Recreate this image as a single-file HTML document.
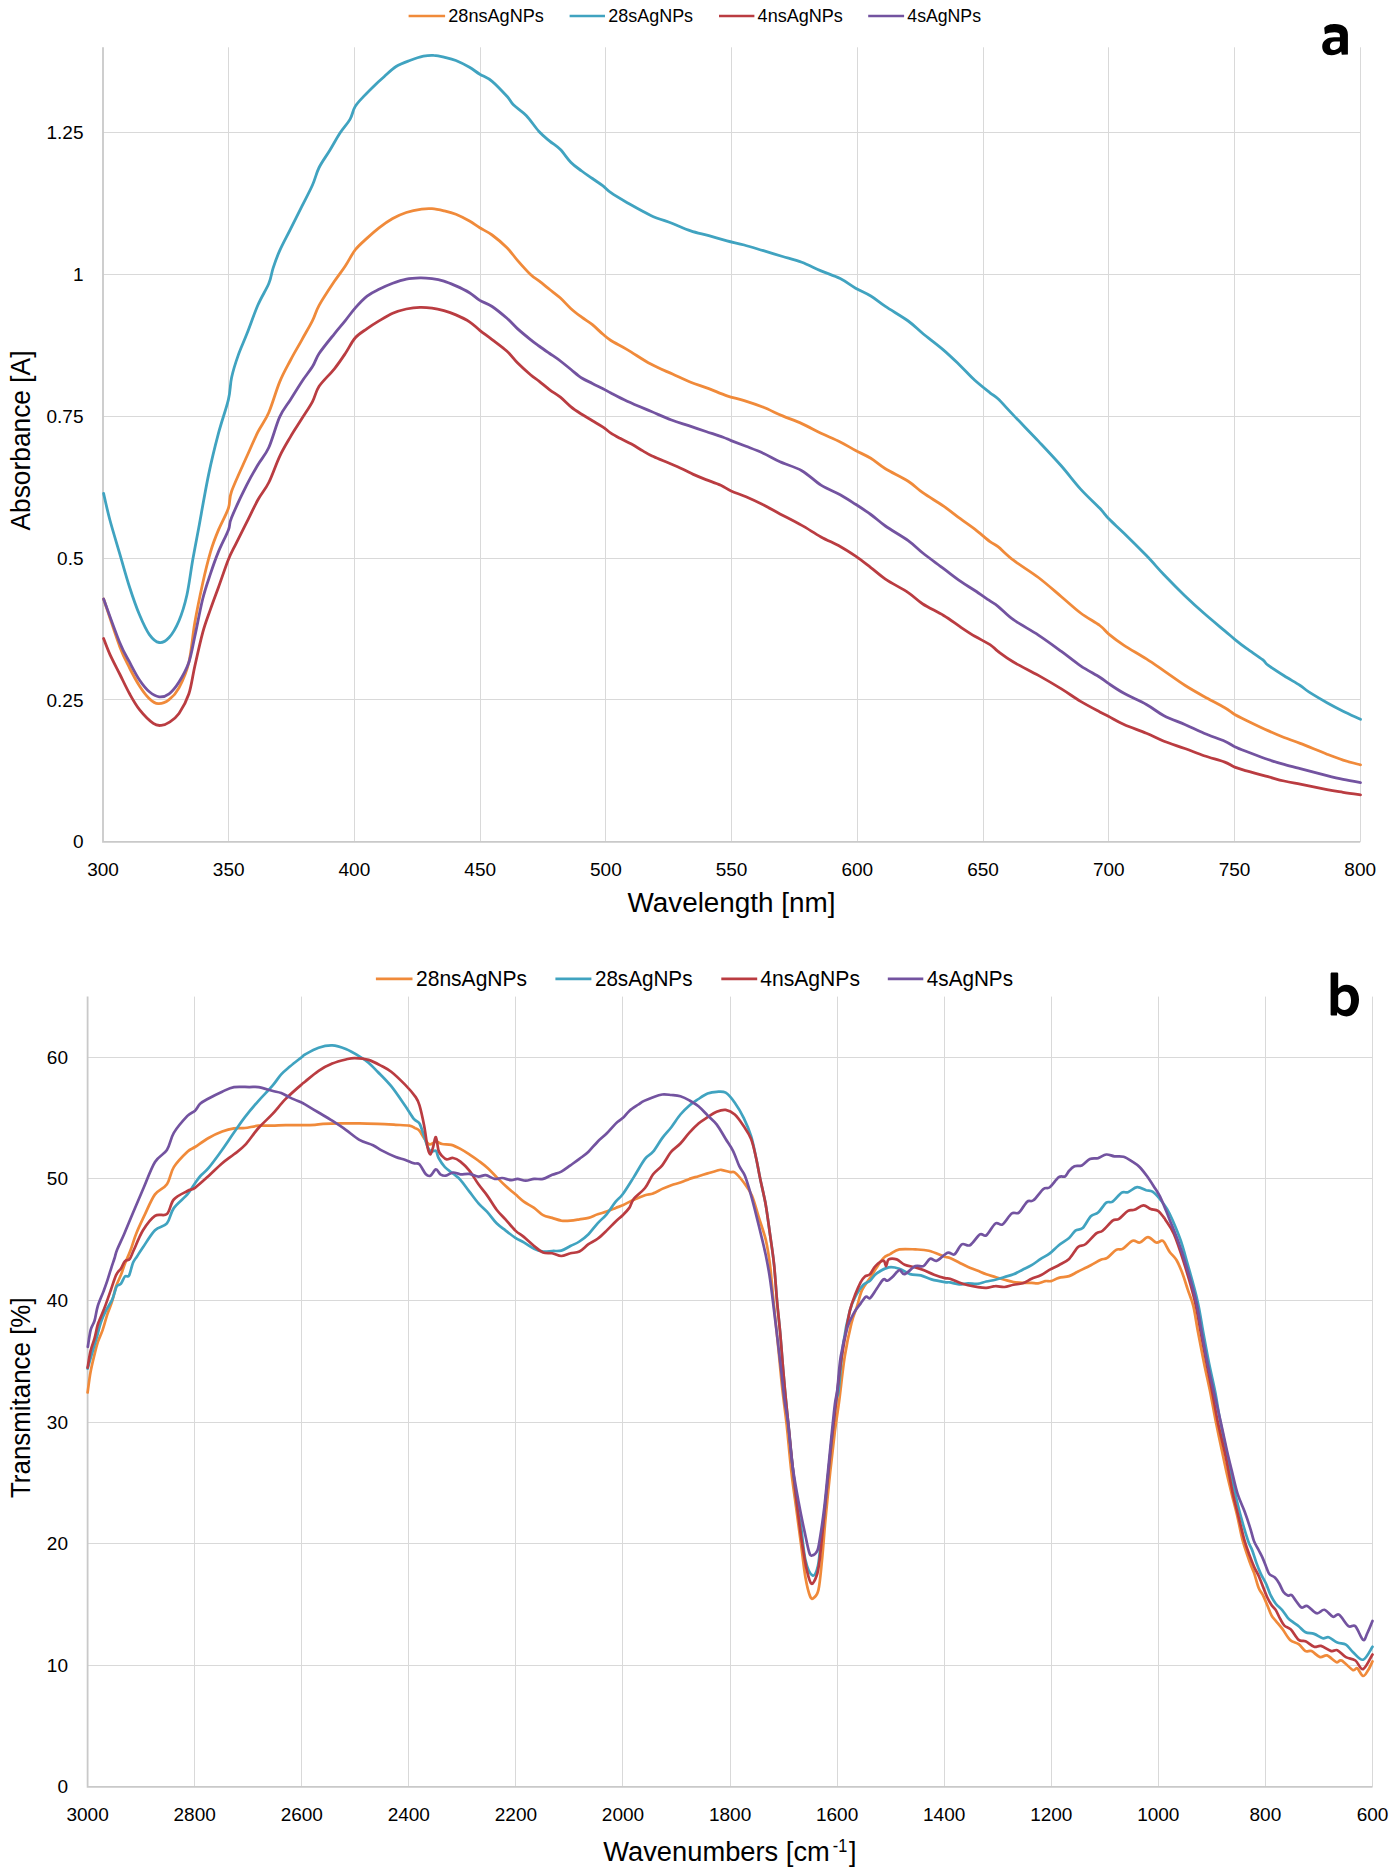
<!DOCTYPE html><html><head><meta charset="utf-8"><style>
html,body{margin:0;padding:0;background:#fff;}
svg{display:block;}
text{font-family:"Liberation Sans",sans-serif;fill:#000;}
</style></head><body>
<svg width="1397" height="1874" viewBox="0 0 1397 1874">
<rect width="1397" height="1874" fill="#fff"/>
<path d="M228.5 47.3 V841.8 M354.5 47.3 V841.8 M480.5 47.3 V841.8 M605.5 47.3 V841.8 M731.5 47.3 V841.8 M857.5 47.3 V841.8 M983.5 47.3 V841.8 M1108.5 47.3 V841.8 M1234.5 47.3 V841.8 M1360.5 47.3 V841.8 M103 699.5 H1360.2 M103 558.5 H1360.2 M103 416.5 H1360.2 M103 274.5 H1360.2 M103 132.5 H1360.2" stroke="#D9D9D9" stroke-width="1" fill="none"/>
<path d="M103 47.3 V841.8 H1360.2" stroke="#C9C9C9" stroke-width="1.8" fill="none"/>
<path d="M194.5 996.6 V1786.8 M301.5 996.6 V1786.8 M408.5 996.6 V1786.8 M515.5 996.6 V1786.8 M622.5 996.6 V1786.8 M730.5 996.6 V1786.8 M837.5 996.6 V1786.8 M944.5 996.6 V1786.8 M1051.5 996.6 V1786.8 M1158.5 996.6 V1786.8 M1265.5 996.6 V1786.8 M1372.5 996.6 V1786.8 M87.6 1665.5 H1372.5 M87.6 1543.5 H1372.5 M87.6 1422.5 H1372.5 M87.6 1300.5 H1372.5 M87.6 1178.5 H1372.5 M87.6 1057.5 H1372.5" stroke="#D9D9D9" stroke-width="1" fill="none"/>
<path d="M87.6 996.6 V1786.8 H1372.5" stroke="#C9C9C9" stroke-width="1.8" fill="none"/>
<text x="83.5" y="848.4" text-anchor="end" font-size="19">0</text>
<text x="83.5" y="706.5" text-anchor="end" font-size="19">0.25</text>
<text x="83.5" y="564.6" text-anchor="end" font-size="19">0.5</text>
<text x="83.5" y="422.8" text-anchor="end" font-size="19">0.75</text>
<text x="83.5" y="280.9" text-anchor="end" font-size="19">1</text>
<text x="83.5" y="139" text-anchor="end" font-size="19">1.25</text>
<text x="103" y="876" text-anchor="middle" font-size="19">300</text>
<text x="228.7" y="876" text-anchor="middle" font-size="19">350</text>
<text x="354.4" y="876" text-anchor="middle" font-size="19">400</text>
<text x="480.2" y="876" text-anchor="middle" font-size="19">450</text>
<text x="605.9" y="876" text-anchor="middle" font-size="19">500</text>
<text x="731.6" y="876" text-anchor="middle" font-size="19">550</text>
<text x="857.3" y="876" text-anchor="middle" font-size="19">600</text>
<text x="983" y="876" text-anchor="middle" font-size="19">650</text>
<text x="1108.8" y="876" text-anchor="middle" font-size="19">700</text>
<text x="1234.5" y="876" text-anchor="middle" font-size="19">750</text>
<text x="1360.2" y="876" text-anchor="middle" font-size="19">800</text>
<text x="68" y="1793.2" text-anchor="end" font-size="19">0</text>
<text x="68" y="1671.6" text-anchor="end" font-size="19">10</text>
<text x="68" y="1550.1" text-anchor="end" font-size="19">20</text>
<text x="68" y="1428.5" text-anchor="end" font-size="19">30</text>
<text x="68" y="1306.9" text-anchor="end" font-size="19">40</text>
<text x="68" y="1185.4" text-anchor="end" font-size="19">50</text>
<text x="68" y="1063.8" text-anchor="end" font-size="19">60</text>
<text x="87.6" y="1821" text-anchor="middle" font-size="19">3000</text>
<text x="194.7" y="1821" text-anchor="middle" font-size="19">2800</text>
<text x="301.8" y="1821" text-anchor="middle" font-size="19">2600</text>
<text x="408.8" y="1821" text-anchor="middle" font-size="19">2400</text>
<text x="515.9" y="1821" text-anchor="middle" font-size="19">2200</text>
<text x="623" y="1821" text-anchor="middle" font-size="19">2000</text>
<text x="730.1" y="1821" text-anchor="middle" font-size="19">1800</text>
<text x="837.1" y="1821" text-anchor="middle" font-size="19">1600</text>
<text x="944.2" y="1821" text-anchor="middle" font-size="19">1400</text>
<text x="1051.3" y="1821" text-anchor="middle" font-size="19">1200</text>
<text x="1158.3" y="1821" text-anchor="middle" font-size="19">1000</text>
<text x="1265.4" y="1821" text-anchor="middle" font-size="19">800</text>
<text x="1372.5" y="1821" text-anchor="middle" font-size="19">600</text>
<text x="627.5" y="911.6" font-size="27" textLength="208" lengthAdjust="spacingAndGlyphs">Wavelength [nm]</text>
<text transform="translate(30 530.5) rotate(-90)" x="0" y="0" font-size="27" textLength="180" lengthAdjust="spacingAndGlyphs">Absorbance [A]</text>
<text transform="translate(29.5 1498) rotate(-90)" x="0" y="0" font-size="27" textLength="200.6" lengthAdjust="spacingAndGlyphs">Transmitance [%]</text>
<text x="603.3" y="1860.7" font-size="27" textLength="226.5" lengthAdjust="spacingAndGlyphs">Wavenumbers [cm</text>
<text x="832.8" y="1851.6" font-size="18" textLength="14.5" lengthAdjust="spacingAndGlyphs">-1</text>
<text x="849" y="1860.7" font-size="27">]</text>
<path d="M408.6 16H445.1" stroke="#F08A3A" stroke-width="2.6"/>
<text x="448.3" y="22.1" font-size="19" textLength="95.6" lengthAdjust="spacingAndGlyphs">28nsAgNPs</text>
<path d="M569.6 16H605" stroke="#40A3C0" stroke-width="2.6"/>
<text x="608.3" y="22.1" font-size="19" textLength="84.8" lengthAdjust="spacingAndGlyphs">28sAgNPs</text>
<path d="M719 16H754.4" stroke="#BA3C41" stroke-width="2.6"/>
<text x="757.6" y="22.1" font-size="19" textLength="85.3" lengthAdjust="spacingAndGlyphs">4nsAgNPs</text>
<path d="M868.2 16H904.1" stroke="#7353A0" stroke-width="2.6"/>
<text x="907.3" y="22.1" font-size="19" textLength="73.7" lengthAdjust="spacingAndGlyphs">4sAgNPs</text>
<path d="M375.9 978.9H412.5" stroke="#F08A3A" stroke-width="2.8"/>
<text x="416" y="985.5" font-size="21.5" textLength="111.1" lengthAdjust="spacingAndGlyphs">28nsAgNPs</text>
<path d="M555.4 978.9H591.4" stroke="#40A3C0" stroke-width="2.8"/>
<text x="594.9" y="985.5" font-size="21.5" textLength="97.6" lengthAdjust="spacingAndGlyphs">28sAgNPs</text>
<path d="M721.3 978.9H757.2" stroke="#BA3C41" stroke-width="2.8"/>
<text x="760.2" y="985.5" font-size="21.5" textLength="99.8" lengthAdjust="spacingAndGlyphs">4nsAgNPs</text>
<path d="M887.8 978.9H923.3" stroke="#7353A0" stroke-width="2.8"/>
<text x="926.8" y="985.5" font-size="21.5" textLength="86.2" lengthAdjust="spacingAndGlyphs">4sAgNPs</text>
<path fill-rule="evenodd" fill="#000" d="M1324.2 27.8C1327 24.5 1331 24 1335 24C1343 24 1347.9 27.5 1347.9 34.5L1347.9 54.5L1341.8 54.8L1341.2 51.5C1338.5 54 1335 55.3 1331.5 55.3C1325.5 55.3 1322.2 51.5 1322.2 46.5C1322.2 40.5 1327.5 37.2 1334 37.2L1339.9 37.2L1339.9 35.5C1339.9 33 1338 32.2 1334.5 32.2C1331 32.2 1327.5 33.1 1324.9 34.2Z M1339.9 41.5L1335 41.5C1331.5 41.5 1329.9 43.5 1329.9 46C1329.9 48.5 1331.2 50 1333.5 50C1337 50 1339.9 47.5 1339.9 45Z"/>
<path fill-rule="evenodd" fill="#000" d="M1330.6 973.5C1330.6 972.8 1331.2 972.4 1332 972.4L1336.8 972.4C1337.6 972.4 1338.2 972.8 1338.2 973.5L1338.2 988.5C1340.3 986 1343 984.7 1346.5 984.7C1354 984.7 1359 990.5 1359 999.5C1359 1009.5 1353.5 1016.4 1346.5 1016.4C1342.5 1016.4 1339.3 1014.8 1337.3 1012.3L1336.9 1015.6L1332 1015.6C1331.2 1015.6 1330.6 1015.1 1330.6 1014.5Z M1338.2 995.5C1339.8 993 1342 991.6 1344.5 991.6C1348.8 991.6 1351 995 1351 1000.5C1351 1006.5 1348.5 1010 1344.5 1010C1342 1010 1339.8 1008.8 1338.2 1006.5Z"/>
<path d="M103.6 599C106.3 606.9 115.4 634.9 119.7 646.4C124 657.9 126.3 661.4 129.6 668C132.9 674.6 136.2 680.8 139.5 685.9C142.8 691 146.3 695.7 149.4 698.7C152.5 701.7 155 703.5 158.3 703.7C161.6 703.9 165.7 702.3 169.1 699.7C172.5 697.1 175.7 694.1 179 687.9C182.3 681.6 186.3 673.1 188.9 662.2C191.5 651.3 192.5 635.9 194.8 622.7C197.1 609.5 200.1 595.1 202.7 583.2C205.3 571.4 208 560.5 210.6 551.6C213.2 542.7 215.5 537.1 218.5 529.9C221.5 522.7 226.2 514.6 228.4 508.2C230.6 501.8 228.5 499.9 231.6 491.3C234.7 482.7 242.5 466.2 246.9 456.3C251.3 446.4 254.2 439.5 257.8 432.2C261.4 424.9 265.2 420.9 268.8 412.5C272.4 404.1 276.1 390.6 279.7 381.9C283.3 373.1 287 366.9 290.6 360C294.2 353.1 298 346.9 301.6 340.3C305.2 333.7 309.6 326.4 312.5 320.6C315.4 314.8 315.5 311.9 319.1 305.3C322.8 298.8 330 287.9 334.4 281.3C338.8 274.8 341.9 271.2 345.3 266C348.8 260.8 351.5 254.7 355.1 250C358.7 245.3 363.1 241.8 367.1 238.1C371.1 234.4 374.7 231.1 379 227.8C383.3 224.5 388.1 221.1 392.7 218.5C397.2 215.9 401.5 214.1 406.3 212.5C411.1 210.9 417.4 209.7 421.7 209.1C426 208.5 428.3 208.4 432 208.7C435.7 209 439.9 209.9 443.9 210.8C447.9 211.7 451.6 212.5 455.9 214.2C460.2 215.9 465.5 218.7 469.5 221C473.5 223.3 476 225.5 479.8 227.8C483.6 230.1 487.6 231.7 492.1 235C496.6 238.3 502.7 243.5 507 247.8C511.3 252.1 513.8 256.2 517.7 260.6C521.6 265.1 527 271.1 530.5 274.5C534 277.9 535.8 278.4 539 280.9C542.2 283.4 546.1 286.6 549.7 289.5C553.3 292.4 556.9 294.8 560.4 298C563.9 301.2 567.5 305.5 571 308.7C574.5 311.9 578.1 314.5 581.7 317.2C585.3 319.9 588.9 321.8 592.4 324.7C595.9 327.6 599.9 331.7 603 334.3C606.1 336.9 606.9 337.9 610.9 340.5C614.9 343.1 620.6 345.7 627.2 349.6C633.9 353.5 643.2 360 650.8 364.1C658.3 368.2 665.9 371.1 672.5 374.1C679.1 377.1 684.7 379.9 690.7 382.3C696.8 384.7 702.8 386.3 708.8 388.6C714.8 390.9 721.1 393.9 727 395.9C732.9 397.9 738.1 398.7 744.2 400.6C750.3 402.5 757 404.8 763.4 407.3C769.8 409.9 776.2 413.2 782.6 415.9C789 418.6 795.4 420.7 801.8 423.6C808.2 426.5 814.6 430.1 821 433.2C827.4 436.2 834.4 439 840.2 441.9C846 444.8 850.5 447.8 855.6 450.5C860.7 453.2 865.8 455.2 870.8 458.3C875.8 461.4 879.2 465 885.4 468.8C891.6 472.6 902 477.2 908.2 481.2C914.4 485.2 916.9 488.5 922.8 492.7C928.7 496.9 937.4 501.9 943.6 506.2C949.9 510.5 955.1 514.9 960.3 518.7C965.5 522.5 969.8 525.3 974.8 529.1C979.8 532.9 986.1 538.7 990 541.6C993.9 544.5 994.1 543.6 998 546.7C1001.9 549.8 1006.7 555.1 1013.4 560.2C1020.1 565.3 1030.4 571.4 1038.4 577.5C1046.4 583.6 1054.4 590.8 1061.4 596.7C1068.4 602.6 1074.2 608.2 1080.6 613C1087 617.8 1095.1 622 1099.8 625.5C1104.5 629 1104.8 630.8 1108.8 634.1C1112.8 637.4 1117.7 641.2 1124 645.3C1130.3 649.4 1139.7 654.6 1146.4 658.9C1153.1 663.2 1157.6 666.5 1164 670.9C1170.4 675.3 1178.1 681 1184.8 685.3C1191.5 689.6 1197.3 692.8 1204 696.5C1210.7 700.2 1219.7 704.7 1224.8 707.7C1229.9 710.7 1231.1 712.4 1234.7 714.5C1238.3 716.6 1241 717.7 1246.5 720.4C1252 723.1 1261.7 727.8 1268 730.6C1274.3 733.5 1278.7 735.4 1284.1 737.5C1289.5 739.6 1293 740.6 1300.2 743.4C1307.4 746.2 1319.8 751.4 1327 754.2C1334.2 757 1337.5 758.3 1343.1 760.1C1348.7 761.9 1357.6 764.1 1360.5 764.9" stroke="#F08A3A" stroke-width="2.8" fill="none" stroke-linejoin="round" stroke-linecap="round"/>
<path d="M103.6 493.4C104.6 497.8 107.2 510 109.9 520C112.6 530 116.4 542.4 119.7 553.6C123 564.8 126.3 577 129.6 587.2C132.9 597.4 136.2 606.9 139.5 614.8C142.8 622.7 146.1 630 149.4 634.6C152.7 639.2 155.9 642 159.2 642.5C162.5 643 165.8 641.1 169.1 637.5C172.4 633.9 176 627.8 179 620.7C182 613.6 184.6 605.2 186.9 595C189.2 584.8 190.8 570.7 192.8 559.5C194.8 548.3 196.1 542.1 198.7 528C201.3 513.9 205.3 490.4 208.6 474.6C211.9 458.8 215.2 445.7 218.5 433.2C221.8 420.7 226.2 408.9 228.4 399.6C230.6 390.3 230 384.8 231.6 377.5C233.2 370.2 235.5 362.9 238.1 355.6C240.7 348.3 243.6 342.2 246.9 333.8C250.2 325.4 254.2 313.7 257.8 305.3C261.4 296.9 266.2 289.7 268.8 283.5C271.4 277.3 271.3 273.6 273.1 268.1C274.9 262.6 276.8 257.1 279.7 250.6C282.6 244 287 236.1 290.6 228.8C294.2 221.5 298 214.2 301.6 206.9C305.2 199.6 309.6 191.6 312.5 185C315.4 178.4 316.2 173.3 319.1 167.5C322 161.7 326.5 155.8 330 150C333.5 144.2 336.7 138.1 340 133C343.3 127.9 347.5 123.8 350 119.4C352.5 115 352.8 110.4 355.1 106.6C357.4 102.8 360.3 100.1 363.7 96.4C367.1 92.7 372.2 87.7 375.6 84.4C379 81.1 380.7 79.7 384.1 76.7C387.5 73.7 391.8 69.2 396.1 66.5C400.4 63.8 405.2 62.2 409.8 60.5C414.4 58.8 419.4 57.1 423.4 56.2C427.4 55.4 430.3 55.2 433.7 55.4C437.1 55.5 440.2 56.2 443.9 57.1C447.6 58 451.6 58.8 455.9 60.5C460.2 62.2 465.5 65 469.5 67.3C473.5 69.6 476 71.9 479.8 74.2C483.6 76.5 487.6 77.6 492.1 81.3C496.6 85 503.4 92.4 507 96.3C510.6 100.2 510.2 101.6 513.4 104.8C516.6 108 521.9 111 526.2 115.5C530.5 120 535.1 127.2 539 131.5C542.9 135.8 546.1 138.1 549.7 141.1C553.3 144.1 556.9 146 560.4 149.6C563.9 153.2 567.5 158.9 571 162.5C574.5 166.1 578.1 168.3 581.7 171C585.3 173.7 588.9 176 592.4 178.5C595.9 181 599.9 183.5 603 185.9C606.1 188.3 606.9 189.9 610.9 192.7C614.9 195.5 620.6 198.9 627.2 202.7C633.9 206.5 643.2 211.9 650.8 215.4C658.3 218.9 665.9 220.9 672.5 223.5C679.1 226.1 684.7 228.8 690.7 230.8C696.8 232.8 702.8 234 708.8 235.7C714.8 237.4 721.1 239.2 727 240.8C732.9 242.4 738.1 243.3 744.2 245C750.3 246.7 757 248.8 763.4 250.7C769.8 252.6 776.2 254.6 782.6 256.5C789 258.4 795.4 259.9 801.8 262.3C808.2 264.7 814.6 268.2 821 270.9C827.4 273.6 834.4 275.7 840.2 278.6C846 281.5 850.5 285.3 855.6 288.2C860.7 291.1 865.8 293 870.8 296C875.8 299 879.2 302.2 885.4 306.4C891.6 310.6 902 316.5 908.2 321C914.4 325.5 916.9 328.6 922.8 333.5C928.7 338.4 937.4 344.7 943.6 350.1C949.9 355.5 955.1 360.7 960.3 365.7C965.5 370.7 969.8 375.8 974.8 380.3C979.8 384.8 986.1 389.7 990 392.8C993.9 395.9 994.1 395.1 998 398.8C1001.9 402.5 1006.7 408.1 1013.4 415.1C1020.1 422.2 1030.4 432.6 1038.4 441.1C1046.4 449.6 1054.4 458 1061.4 466C1068.4 474 1074.2 482.1 1080.6 489.1C1087 496.2 1095.1 503.4 1099.8 508.3C1104.5 513.2 1104.8 514.6 1108.8 518.8C1112.8 522.9 1117.7 527.1 1124 533.2C1130.3 539.3 1139.7 548.7 1146.4 555.6C1153.1 562.5 1157.6 568.1 1164 574.8C1170.4 581.5 1178.1 589.3 1184.8 595.7C1191.5 602.1 1197.3 607.4 1204 613.3C1210.7 619.2 1219.7 626.6 1224.8 630.9C1229.9 635.2 1231.1 636.4 1234.7 639.3C1238.3 642.2 1241.8 645 1246.5 648.4C1251.2 651.8 1259 656.9 1262.6 659.7C1266.2 662.5 1264.4 662.4 1268 665.1C1271.6 667.8 1278.7 672.4 1284.1 675.8C1289.5 679.2 1296.1 682.8 1300.2 685.5C1304.3 688.2 1304.3 689 1308.8 691.9C1313.3 694.8 1321.3 699.5 1327 702.7C1332.7 705.9 1337.5 708.4 1343.1 711.2C1348.7 714 1357.6 717.9 1360.5 719.3" stroke="#40A3C0" stroke-width="2.8" fill="none" stroke-linejoin="round" stroke-linecap="round"/>
<path d="M103.6 638.5C104.6 641.1 107.2 648.4 109.9 654.3C112.6 660.2 116.4 667.4 119.7 674C123 680.6 126.3 687.9 129.6 693.8C132.9 699.7 135.6 704.7 139.5 709.6C143.4 714.5 149.7 720.8 153.3 723.4C156.9 726 158.6 725.6 161.2 725.4C163.8 725.2 166.1 724.4 169.1 722.4C172.1 720.4 175.7 718.3 179 713.5C182.3 708.7 186.3 701.7 188.9 693.8C191.5 685.9 192.5 676.4 194.8 666.2C197.1 656 200.1 642.2 202.7 632.6C205.3 623 208 616.5 210.6 608.9C213.2 601.3 215.5 595.4 218.5 587.2C221.5 579 225.5 566.7 228.4 559.5C231.3 552.3 232.8 550.1 235.9 543.8C239 537.5 243.2 529.2 246.9 521.9C250.6 514.6 254.2 506.6 257.8 500C261.4 493.4 265.2 489.8 268.8 482.5C272.4 475.2 276.1 463.9 279.7 456.3C283.3 448.7 287 442.8 290.6 436.6C294.2 430.4 298 424.9 301.6 419.1C305.2 413.3 309.6 407.1 312.5 401.6C315.4 396.1 315.5 391.8 319.1 386.3C322.8 380.8 330 374.3 334.4 368.8C338.8 363.3 341.9 358.6 345.3 353.5C348.8 348.4 351.5 342.1 355.1 338C358.7 333.9 363.1 331.5 367.1 328.6C371.1 325.8 374.7 323.5 379 320.9C383.3 318.3 388.1 315.2 392.7 313.2C397.2 311.2 401.8 310 406.3 309C410.9 308 415.7 307.4 420 307.3C424.3 307.2 428 307.5 432 308.1C436 308.7 439.9 309.6 443.9 310.7C447.9 311.8 451.6 313 455.9 314.9C460.2 316.8 465.5 319.2 469.5 321.8C473.5 324.4 476 327.3 479.8 330.3C483.6 333.3 487.6 336.1 492.1 339.6C496.6 343.1 502.7 347.4 507 351.3C511.3 355.2 513.8 359.2 517.7 363.1C521.6 367 527 371.8 530.5 374.8C534 377.8 535.8 378.7 539 381.2C542.2 383.7 546.1 387.1 549.7 389.8C553.3 392.5 556.9 394.4 560.4 397.2C563.9 400 567.5 404 571 406.9C574.5 409.8 578.1 412 581.7 414.3C585.3 416.6 588.9 418.6 592.4 420.7C595.9 422.8 599.9 425 603 427.1C606.1 429.2 608.1 431.2 610.9 433.1C613.7 435 616.6 436.5 620 438.3C623.4 440.1 627.7 442 631.5 444.1C635.3 446.2 639.5 448.9 642.9 450.9C646.3 452.9 648.3 454.3 652.1 456.1C655.9 457.9 660.6 459.6 665.8 461.8C670.9 464 678.4 467.2 683 469.3C687.6 471.4 689.5 472.7 693.3 474.4C697.1 476.1 701.3 477.8 705.9 479.6C710.5 481.4 716.6 483.4 720.8 485.3C725 487.2 726.9 489.1 731.1 491C735.3 492.9 740.6 494.4 746 496.7C751.4 499 757.5 501.9 763.2 504.8C768.9 507.7 773.6 510.5 780 513.9C786.4 517.3 795 521.6 801.8 525.4C808.6 529.2 814.6 533.4 821 536.9C827.4 540.4 834.4 543.3 840.2 546.5C846 549.7 850.5 552.7 855.6 556.2C860.7 559.7 865.8 563.8 870.8 567.6C875.8 571.4 879.2 574.9 885.4 579.1C891.6 583.3 902 588.5 908.2 592.6C914.4 596.8 916.9 600.2 922.8 604C928.7 607.8 937.4 611.7 943.6 615.5C949.9 619.3 955.1 623.4 960.3 626.9C965.5 630.4 969.8 633.3 974.8 636.3C979.8 639.2 986.1 642.1 990 644.6C993.9 647.1 994.1 648.5 998 651.4C1001.9 654.3 1006.7 658 1013.4 662C1020.1 666 1030.4 670.9 1038.4 675.4C1046.4 679.9 1054.4 684.6 1061.4 688.9C1068.4 693.2 1074.2 697.6 1080.6 701.4C1087 705.2 1095.1 709.4 1099.8 711.9C1104.5 714.4 1104.8 714.4 1108.8 716.5C1112.8 718.6 1117.7 721.7 1124 724.5C1130.3 727.3 1139.7 730.5 1146.4 733.3C1153.1 736.1 1157.6 738.8 1164 741.3C1170.4 743.8 1178.1 746.1 1184.8 748.5C1191.5 750.9 1197.3 753.4 1204 755.7C1210.7 758 1219.7 760.2 1224.8 762.1C1229.9 764 1231.1 765.7 1234.7 767.1C1238.3 768.5 1241 769.2 1246.5 770.8C1252 772.4 1261.7 775 1268 776.7C1274.3 778.4 1278.7 779.8 1284.1 781C1289.5 782.2 1293 782.8 1300.2 784.2C1307.4 785.6 1319.8 788.2 1327 789.6C1334.2 791 1337.5 791.4 1343.1 792.3C1348.7 793.2 1357.6 794.4 1360.5 794.8" stroke="#BA3C41" stroke-width="2.8" fill="none" stroke-linejoin="round" stroke-linecap="round"/>
<path d="M103.6 599C106.3 606.2 115.4 632 119.7 642.5C124 653 126.3 656 129.6 662.2C132.9 668.5 136.2 675.1 139.5 680C142.8 684.9 146.1 689 149.4 691.8C152.7 694.6 155.9 696.5 159.2 696.8C162.5 697.1 165.8 696.3 169.1 693.8C172.4 691.3 175.7 687.3 179 682C182.3 676.7 186.3 669.8 188.9 662.2C191.5 654.6 192.5 647 194.8 636.5C197.1 626 200.1 609.5 202.7 599C205.3 588.5 208 581.3 210.6 573.4C213.2 565.5 215.5 558.9 218.5 551.6C221.5 544.4 226.2 535.6 228.4 529.9C230.6 524.2 228.5 525 231.6 517.5C234.7 510 242.5 493.4 246.9 484.7C251.3 475.9 254.2 471.2 257.8 465C261.4 458.8 265.2 455.5 268.8 447.5C272.4 439.5 276.1 424.9 279.7 416.9C283.3 408.9 287 405.2 290.6 399.4C294.2 393.6 298 387.4 301.6 381.9C305.2 376.4 309.6 371.3 312.5 366.6C315.4 361.9 315.5 359 319.1 353.5C322.8 348 330 339.3 334.4 333.8C338.8 328.3 341.9 324.9 345.3 320.6C348.8 316.3 351.5 312.2 355.1 308.1C358.7 304 363.1 299.2 367.1 296.1C371.1 293 374.7 291.4 379 289.3C383.3 287.2 388.1 285 392.7 283.3C397.2 281.6 401.8 280 406.3 279.1C410.9 278.2 415.7 278 420 277.9C424.3 277.8 428 278.2 432 278.7C436 279.2 439.9 279.9 443.9 281.1C447.9 282.3 451.6 284 455.9 285.9C460.2 287.8 465.5 290.3 469.5 292.7C473.5 295.1 476 298.1 479.8 300.4C483.6 302.7 487.6 303.5 492.1 306.5C496.6 309.5 502.7 314.6 507 318.3C511.3 322 513.8 325.3 517.7 328.9C521.6 332.4 527 336.8 530.5 339.6C534 342.5 535.8 343.7 539 346C542.2 348.3 546.1 351 549.7 353.5C553.3 356 556.9 358.3 560.4 361C563.9 363.7 567.5 366.7 571 369.5C574.5 372.3 578.1 375.7 581.7 378C585.3 380.3 588.9 381.6 592.4 383.4C595.9 385.2 599.9 387.1 603 388.7C606.1 390.3 606.9 391 610.9 393.1C614.9 395.2 620.6 398.3 627.2 401.3C633.9 404.3 643.4 408.2 650.8 411.3C658.2 414.4 665.2 417.6 671.5 420C677.8 422.4 683 423.8 688.7 425.7C694.4 427.6 700.2 429.6 705.9 431.5C711.6 433.4 718.9 435.7 723.1 437.2C727.3 438.7 727.3 439.1 731.1 440.6C734.9 442.1 740.6 444.2 746 446.3C751.4 448.4 757.5 450.6 763.2 453.2C768.9 455.8 773.6 458.9 780 461.8C786.4 464.7 795 466.8 801.8 470.7C808.6 474.6 814.6 481.1 821 485.1C827.4 489.1 834.4 491.5 840.2 494.7C846 497.9 850.5 501 855.6 504.3C860.7 507.6 865.8 510.9 870.8 514.5C875.8 518.1 879.2 521.6 885.4 526C891.6 530.4 902 536.1 908.2 540.6C914.4 545.1 916.9 548.3 922.8 553C928.7 557.7 937.4 563.9 943.6 568.6C949.9 573.3 955.1 577.5 960.3 581.1C965.5 584.8 969.8 587.2 974.8 590.5C979.8 593.8 986.1 598.3 990 600.9C993.9 603.5 994.1 603.2 998 606.3C1001.9 609.4 1006.7 614.9 1013.4 619.7C1020.1 624.5 1030.4 629.8 1038.4 635.1C1046.4 640.4 1054.4 646.3 1061.4 651.4C1068.4 656.5 1074.2 661.5 1080.6 665.8C1087 670.1 1095.1 674.3 1099.8 677.3C1104.5 680.3 1104.8 681 1108.8 683.7C1112.8 686.4 1117.7 689.8 1124 693.3C1130.3 696.8 1139.7 700.8 1146.4 704.5C1153.1 708.2 1157.6 712.4 1164 715.7C1170.4 719 1178.1 721.6 1184.8 724.5C1191.5 727.4 1197.3 730.5 1204 733.3C1210.7 736.1 1219.7 739.1 1224.8 741.3C1229.9 743.5 1231.1 745 1234.7 746.7C1238.3 748.4 1241 749.4 1246.5 751.5C1252 753.6 1261.7 757.4 1268 759.5C1274.3 761.6 1278.7 762.9 1284.1 764.4C1289.5 765.9 1293 766.8 1300.2 768.7C1307.4 770.6 1319.8 773.8 1327 775.6C1334.2 777.4 1337.5 778.2 1343.1 779.4C1348.7 780.6 1357.6 782.1 1360.5 782.6" stroke="#7353A0" stroke-width="2.8" fill="none" stroke-linejoin="round" stroke-linecap="round"/>
<path d="M87.6 1392.5C88.1 1389 89.4 1378.1 90.6 1371.7C91.8 1365.3 93.4 1359 94.6 1354.1C95.8 1349.2 96.5 1346.1 97.8 1342.1C99.1 1338.1 101 1334.8 102.6 1330.1C104.2 1325.4 105.8 1318.9 107.4 1314.1C109 1309.3 110.7 1305.9 112.2 1301.2C113.7 1296.5 114.7 1290.4 116.2 1286C117.7 1281.6 119.5 1278.5 121 1274.8C122.5 1271.1 123.4 1267.7 125 1263.6C126.6 1259.5 128.7 1255 130.6 1250C132.5 1245 133.8 1239.5 136.2 1233.7C138.5 1227.9 141.6 1221.5 144.7 1214.9C147.8 1208.4 151.3 1199.5 155 1194.4C158.7 1189.3 163.8 1188.8 166.9 1184.2C170 1179.7 170.4 1172.5 173.8 1167.1C177.2 1161.7 183.9 1155 187.4 1151.7C190.9 1148.4 191.5 1149.3 195 1147C198.5 1144.7 204.1 1140.6 208.6 1138C213.1 1135.4 218 1133.2 222.2 1131.6C226.4 1130 230.2 1129 234 1128.4C237.8 1127.8 240.8 1128.5 244.9 1128C249 1127.5 254 1126.1 258.5 1125.7C263 1125.3 267.6 1125.8 272.1 1125.7C276.6 1125.6 280.8 1125.3 285.7 1125.2C290.6 1125.1 296.7 1125.3 301.6 1125.2C306.5 1125.1 311.4 1125 315 1124.8C318.6 1124.6 318.7 1124.1 323.1 1123.9C327.5 1123.7 335.2 1123.5 341.3 1123.4C347.4 1123.3 353.3 1123.3 359.4 1123.4C365.4 1123.5 371.6 1123.7 377.6 1123.9C383.7 1124.1 390.4 1124.5 395.7 1124.8C401 1125.1 406.1 1125.2 409.3 1125.7C412.5 1126.2 413.3 1127.2 415 1128.1C416.7 1128.9 418 1129.1 419.5 1130.8C421 1132.5 422.4 1135.8 424.1 1138.1C425.8 1140.4 427.5 1143.8 429.5 1144.4C431.5 1145 433.8 1141.8 435.9 1141.7C438 1141.6 439.6 1143.5 442.2 1144C444.8 1144.5 448.3 1144.1 451.3 1144.9C454.3 1145.7 457.4 1147.3 460.4 1148.9C463.4 1150.5 466.4 1152.4 469.4 1154.4C472.4 1156.4 475.5 1158.4 478.5 1160.7C481.5 1163 484.6 1165.3 487.6 1168C490.6 1170.7 493.6 1174.1 496.6 1177.1C499.6 1180.1 502.6 1183.2 505.7 1186.1C508.8 1189 512.4 1191.7 515.4 1194.3C518.4 1196.9 520.7 1199.3 523.8 1201.6C526.9 1203.9 530.9 1205.6 534.1 1207.9C537.3 1210.2 540.1 1213.5 543.1 1215.2C546.1 1216.9 549.2 1217 552.2 1217.9C555.2 1218.8 558.3 1220.1 561.3 1220.6C564.3 1221 567.4 1220.8 570.4 1220.6C573.4 1220.4 576.4 1219.8 579.4 1219.3C582.4 1218.8 585.5 1218.7 588.5 1217.9C591.5 1217.1 594.6 1215.3 597.6 1214.3C600.6 1213.2 603.6 1212.7 606.6 1211.6C609.6 1210.5 613 1209 615.7 1207.9C618.4 1206.8 619.7 1206.6 622.7 1205.2C625.7 1203.8 630.1 1201.5 633.8 1199.8C637.5 1198.1 641.8 1196.3 645 1195.2C648.2 1194.1 650.2 1194.5 653.1 1193.4C656 1192.4 659.2 1190.3 662.2 1188.9C665.2 1187.5 668.3 1186.3 671.3 1185.2C674.3 1184.1 677.4 1183.5 680.4 1182.5C683.4 1181.5 686.4 1180 689.4 1178.9C692.4 1177.9 695.5 1177.1 698.5 1176.2C701.5 1175.3 704.6 1174.3 707.6 1173.4C710.6 1172.5 714.3 1171.3 716.6 1170.7C718.9 1170.1 718.9 1169.6 721.2 1169.8C723.5 1170 727.9 1171.6 730.2 1172.1C732.5 1172.5 732.5 1170.8 734.8 1172.5C737.1 1174.2 740.9 1178.7 743.8 1182.5C746.6 1186.3 749.4 1189.6 751.9 1195.5C754.4 1201.4 756.6 1210.3 758.9 1217.7C761.2 1225.1 763.9 1232 765.8 1239.9C767.6 1247.8 768.9 1256.1 770 1264.9C771.1 1273.7 771.8 1283.3 772.7 1292.6C773.6 1301.8 774.5 1310 775.5 1320.4C776.5 1330.8 777.9 1343.5 779 1355C780.1 1366.5 781.1 1378 782.4 1389.7C783.7 1401.4 785.2 1411.5 786.7 1425.2C788.2 1439 789.8 1458.5 791.4 1472.2C793 1485.9 794.5 1495.7 796.1 1507.4C797.7 1519.1 799.2 1530.9 800.8 1542.6C802.4 1554.3 803.9 1568.8 805.5 1577.8C807.1 1586.8 808.8 1593.3 810.2 1596.6C811.6 1599.9 812.4 1599 813.8 1597.8C815.2 1596.6 817.1 1595.9 818.5 1589.6C819.9 1583.3 820.8 1572 822 1560.2C823.2 1548.5 824.1 1533.8 825.5 1519.1C826.9 1504.4 828.6 1486.9 830.2 1472.2C831.8 1457.5 833.4 1443.1 834.9 1431.1C836.4 1419.1 837.7 1412.4 839.3 1400C840.9 1387.6 842.7 1369.6 844.7 1356.8C846.7 1344 849.4 1331.6 851.4 1323.4C853.4 1315.2 854.9 1313 856.7 1307.4C858.5 1301.9 859.8 1295 862 1290.1C864.2 1285.2 867.5 1281.9 870 1278.1C872.5 1274.3 874.5 1270.7 876.7 1267.4C878.9 1264.1 881.2 1260.3 883.4 1258.1C885.6 1255.9 887.4 1255.5 890.1 1254.1C892.8 1252.6 895.2 1250.2 899.4 1249.4C903.6 1248.6 910.5 1249.2 915.4 1249.4C920.3 1249.6 923.9 1249.5 928.8 1250.7C933.7 1251.9 941.3 1255.5 944.8 1256.7C948.3 1257.9 947.6 1256.9 950 1257.9C952.4 1258.9 956.1 1261 959.1 1262.5C962.1 1264 965.1 1265.7 968.1 1267C971.1 1268.3 974.2 1269.4 977.2 1270.6C980.2 1271.8 983.3 1273.2 986.3 1274.3C989.3 1275.4 992.4 1276.1 995.4 1277C998.4 1277.9 1001.4 1278.9 1004.4 1279.7C1007.4 1280.5 1010.5 1281.5 1013.5 1282C1016.5 1282.5 1019.6 1282.8 1022.6 1282.9C1025.6 1283.1 1029 1282.8 1031.6 1282.9C1034.2 1283 1035.7 1283.6 1038 1283.3C1040.3 1283 1043 1281.5 1045.2 1281.1C1047.4 1280.7 1048.8 1281.6 1051.1 1281.1C1053.4 1280.6 1055.8 1278.7 1058.8 1277.9C1061.8 1277.1 1065.9 1277.2 1069.1 1276.1C1072.3 1275 1074.5 1273.3 1078.1 1271.5C1081.7 1269.7 1087 1267.2 1090.8 1265.2C1094.6 1263.2 1098.1 1260.9 1100.8 1259.7C1103.5 1258.5 1104.6 1259.6 1107.2 1257.9C1109.8 1256.2 1113.6 1251.3 1116.2 1249.8C1118.8 1248.3 1119.9 1250.4 1122.6 1248.9C1125.3 1247.4 1129.7 1241.8 1132.6 1240.7C1135.5 1239.6 1137.2 1243.1 1139.8 1242.5C1142.4 1241.9 1145.3 1237.1 1148 1237.1C1150.7 1237.1 1153.8 1241.9 1156.1 1242.5C1158.4 1243.1 1160.2 1240.8 1161.6 1240.7C1162.9 1240.7 1162.8 1240.3 1164.2 1242.2C1165.6 1244.1 1167.6 1248.9 1169.7 1251.9C1171.8 1254.9 1174.5 1256.7 1176.6 1260.2C1178.7 1263.7 1180.3 1267.8 1182.2 1272.7C1184.1 1277.6 1185.9 1283.9 1187.7 1289.4C1189.5 1295 1191.6 1299.1 1193.3 1306C1195 1312.9 1196 1321.5 1197.8 1331C1199.6 1340.5 1201.9 1352.5 1204 1362.9C1206.1 1373.3 1208.5 1383.5 1210.5 1393.4C1212.5 1403.4 1213.9 1412.2 1216 1422.6C1218.1 1433 1221 1446.2 1223 1455.8C1225 1465.4 1226.8 1473.7 1228.3 1480C1229.8 1486.3 1230.2 1487.7 1231.7 1493.9C1233.2 1500.1 1235.8 1509.6 1237.6 1517.4C1239.4 1525.2 1240.7 1533.3 1242.8 1540.9C1244.9 1548.5 1248.1 1557.5 1250 1562.9C1251.9 1568.4 1252.9 1569.4 1254.3 1573.6C1255.7 1577.8 1257.2 1584.2 1258.6 1587.8C1260 1591.4 1261.5 1592.2 1262.9 1595.1C1264.3 1598 1265.8 1601.6 1267.2 1605C1268.6 1608.4 1270.1 1612.7 1271.5 1615.3C1272.9 1617.9 1274 1618.6 1275.8 1620.8C1277.6 1623 1279.8 1625.4 1282.2 1628.6C1284.6 1631.8 1287.3 1637.3 1290.1 1639.9C1292.8 1642.5 1296.1 1642.3 1298.7 1644.2C1301.3 1646.1 1303.4 1649.9 1305.5 1651.1C1307.6 1652.2 1309.1 1650.1 1311.5 1651.1C1313.9 1652.1 1317.5 1656.4 1320.1 1657.1C1322.7 1657.8 1324.3 1654.6 1327 1655.4C1329.7 1656.2 1334.1 1661.4 1336.5 1662.2C1338.9 1663 1338.9 1659.2 1341.6 1660.5C1344.3 1661.8 1350.2 1668.7 1352.8 1670C1355.4 1671.3 1355.4 1667.2 1357.1 1668.2C1358.8 1669.2 1361.2 1675.7 1363.1 1676C1364.9 1676.3 1366.6 1672.4 1368.2 1670C1369.8 1667.6 1371.8 1662.8 1372.5 1661.4" stroke="#F08A3A" stroke-width="2.7" fill="none" stroke-linejoin="round" stroke-linecap="round"/>
<path d="M87.6 1368.5C88.5 1365.4 91.4 1355.4 93 1350.1C94.6 1344.8 95.7 1341.2 97 1336.5C98.3 1331.8 99.5 1326.3 101 1322C102.5 1317.7 103.9 1314.5 105.8 1310.8C107.7 1307.1 110.6 1303.1 112.2 1299.6C113.8 1296.1 114.6 1292.3 115.4 1290C116.2 1287.7 116.1 1287.1 117 1286C117.9 1284.9 119.7 1285.2 121 1283.6C122.3 1282 123.7 1277.7 125 1276.4C126.3 1275.1 127.7 1277.9 129 1275.6C130.3 1273.3 131.7 1266 133 1262.8C134.3 1259.6 135.3 1259 137 1256.4C138.7 1253.8 140 1251.7 143 1247.3C146 1242.9 151 1234.3 155 1230.3C159 1226.3 163.8 1227.1 166.9 1223.4C170 1219.7 170.4 1212.9 173.8 1208.1C177.2 1203.3 183.9 1198.5 187.4 1194.4C190.9 1190.3 192.8 1186.4 195 1183.3C197.2 1180.2 198.1 1178.6 200.4 1176C202.7 1173.4 205 1172.3 208.6 1167.9C212.2 1163.5 218 1155.6 222.2 1149.7C226.4 1143.8 230.2 1137.9 234 1132.5C237.8 1127.1 240.8 1122.4 244.9 1117.1C249 1111.8 254 1105.9 258.5 1100.8C263 1095.7 268.3 1090.6 272.1 1086.2C275.9 1081.8 278.2 1077.7 281.2 1074.4C284.2 1071.1 286.8 1069.2 290.2 1066.3C293.6 1063.4 299.1 1059.2 301.6 1057.2C304.1 1055.2 302.2 1056.1 305 1054.5C307.8 1052.9 314.1 1049.2 318.6 1047.7C323.1 1046.2 327.7 1045.2 332.2 1045.4C336.7 1045.6 341.3 1047.2 345.8 1049C350.3 1050.8 355.6 1054 359.4 1056.3C363.2 1058.6 365.5 1060.1 368.5 1062.7C371.5 1065.3 373.8 1067.8 377.6 1071.7C381.4 1075.6 386.7 1080.6 391.2 1086.2C395.7 1091.8 401 1099.8 404.8 1105.3C408.6 1110.8 411.4 1115.9 413.8 1118.9C416.2 1121.9 417.8 1120.6 419.5 1123.5C421.2 1126.4 422.7 1132.3 424.1 1136.2C425.5 1140.1 426.5 1144.5 427.7 1147.1C428.9 1149.7 429.9 1151.1 431.3 1151.7C432.7 1152.3 434.7 1149.8 435.9 1150.8C437.1 1151.8 437.1 1155.3 438.6 1158C440.1 1160.7 442.3 1164.4 444.9 1167.1C447.5 1169.8 451.4 1172.2 454 1174.3C456.6 1176.4 457.8 1176.9 460.4 1179.8C463 1182.7 466.4 1187.7 469.4 1191.6C472.4 1195.5 475.5 1199.9 478.5 1203.4C481.5 1206.9 484.6 1209.1 487.6 1212.4C490.6 1215.7 493.6 1220.3 496.6 1223.3C499.6 1226.3 502.6 1228.2 505.7 1230.6C508.8 1233 512.4 1235.8 515.4 1237.8C518.4 1239.8 520.7 1240.6 523.8 1242.4C526.9 1244.2 530.9 1247.2 534.1 1248.7C537.3 1250.2 540.1 1251.1 543.1 1251.5C546.1 1251.9 549.2 1251.2 552.2 1251C555.2 1250.8 558.3 1251.4 561.3 1250.6C564.3 1249.8 567.4 1247.5 570.4 1246C573.4 1244.5 576.4 1243.5 579.4 1241.5C582.4 1239.5 585.5 1237.2 588.5 1234.2C591.5 1231.2 594.6 1226.6 597.6 1223.3C600.6 1220 603.6 1217.9 606.6 1214.3C609.6 1210.7 613 1204.9 615.7 1201.6C618.4 1198.3 619.7 1198.4 622.7 1194.3C625.7 1190.2 630.1 1183 633.8 1177.1C637.5 1171.2 641.8 1163.1 645 1158.9C648.2 1154.7 650.2 1155.2 653.1 1151.7C656 1148.2 659.2 1142.2 662.2 1138.1C665.2 1134 668.3 1131.1 671.3 1127.2C674.3 1123.3 677.4 1118.1 680.4 1114.5C683.4 1110.9 686.4 1108 689.4 1105.4C692.4 1102.8 695.5 1101 698.5 1099C701.5 1097 704.6 1094.8 707.6 1093.6C710.6 1092.4 713.6 1091.9 716.6 1091.8C719.6 1091.7 722.7 1090.9 725.7 1092.7C728.7 1094.5 731.8 1098.5 734.8 1102.7C737.8 1106.9 741.1 1112.5 743.8 1118.1C746.5 1123.7 749 1129.5 751.1 1136.2C753.2 1142.9 754.6 1150.9 756.1 1158C757.6 1165.1 758.6 1170.9 760.2 1178.8C761.8 1186.7 764.2 1196 765.8 1205.2C767.4 1214.5 768.6 1224.3 770 1234.3C771.4 1244.2 773 1254 774.1 1264.9C775.2 1275.8 775.9 1288 776.9 1299.5C777.9 1311 779.3 1322.6 780.3 1334.2C781.3 1345.8 782.2 1357.9 783.1 1368.9C784 1379.9 784.9 1389.6 785.9 1400C786.9 1410.4 788 1420 789.1 1431.1C790.2 1442.1 791.2 1453.6 792.6 1466.3C794 1479 795.9 1497.6 797.3 1507.4C798.7 1517.2 799.4 1516.2 800.8 1525C802.2 1533.8 803.5 1551.8 805.5 1560.2C807.5 1568.6 810.5 1574.5 812.6 1575.5C814.7 1576.5 816.4 1572.6 817.9 1566.1C819.4 1559.6 820.5 1543.5 821.4 1536.7C822.3 1529.9 822.3 1532.8 823.2 1525C824.1 1517.2 825.3 1503.5 826.7 1489.8C828.1 1476.1 829.8 1457.5 831.4 1442.8C833 1428.1 834.9 1410.5 836.1 1401.7C837.3 1392.9 837.5 1399.8 838.7 1390.1C839.9 1380.4 841.4 1356.7 843.3 1343.4C845.2 1330.1 847.8 1318.3 850 1310.1C852.2 1301.9 854.5 1298.3 856.7 1294.1C858.9 1289.9 861.2 1286.9 863.4 1284.7C865.6 1282.5 867.8 1282.6 870 1280.7C872.2 1278.8 873.6 1275.6 876.7 1273.4C879.8 1271.2 884.9 1268.2 888.7 1267.4C892.5 1266.6 895.8 1267.6 899.4 1268.7C903 1269.8 906.5 1273 910.1 1274.1C913.7 1275.2 917.2 1274.5 920.8 1275.4C924.3 1276.3 927.4 1278.3 931.4 1279.4C935.4 1280.5 941.7 1281.6 944.8 1282.1C947.9 1282.6 947.6 1282 950 1282.4C952.4 1282.8 956.1 1284.2 959.1 1284.3C962.1 1284.4 965.1 1283.4 968.1 1283.3C971.1 1283.2 974.2 1284.1 977.2 1283.8C980.2 1283.5 983.3 1282.2 986.3 1281.5C989.3 1280.8 992.4 1280.5 995.4 1279.7C998.4 1279 1001.4 1277.9 1004.4 1277C1007.4 1276.1 1010.5 1275.5 1013.5 1274.3C1016.5 1273.1 1019.6 1271.2 1022.6 1269.7C1025.6 1268.2 1028.6 1267 1031.6 1265.2C1034.6 1263.4 1037.7 1260.9 1040.7 1258.9C1043.7 1256.9 1046.8 1255.7 1049.8 1253.4C1052.8 1251.1 1055.6 1247.8 1058.8 1245.2C1062 1242.6 1066.3 1240.4 1069.1 1238C1071.9 1235.6 1073.1 1232.4 1075.4 1230.7C1077.7 1229 1080.1 1230.4 1082.7 1228C1085.3 1225.6 1088.2 1218.8 1090.8 1216.2C1093.4 1213.6 1095.5 1214.9 1098.1 1212.6C1100.7 1210.3 1103.9 1204.4 1106.3 1202.6C1108.7 1200.8 1110 1203.4 1112.6 1201.7C1115.2 1200 1119.1 1194.2 1121.7 1192.6C1124.3 1191 1125.4 1193.1 1128 1192.2C1130.6 1191.3 1134.1 1187.5 1137.1 1187.2C1140.1 1186.9 1143.6 1189.5 1146.2 1190.3C1148.8 1191 1150.2 1190.2 1152.5 1191.7C1154.8 1193.2 1157.4 1196.1 1159.8 1199C1162.2 1201.9 1164.9 1205.4 1167 1208.9C1169.1 1212.4 1170.2 1214.7 1172.5 1220C1174.8 1225.3 1178.3 1233.4 1180.8 1240.8C1183.3 1248.2 1184.9 1254.5 1187.7 1264.4C1190.5 1274.4 1194.9 1289.4 1197.4 1300.5C1200 1311.6 1201.1 1320.6 1203 1331C1204.9 1341.4 1206.9 1352.5 1209 1362.9C1211.1 1373.3 1213.6 1383.5 1215.5 1393.4C1217.4 1403.4 1218 1409.8 1220.5 1422.6C1223 1435.4 1228.3 1460.4 1230.3 1470C1232.3 1479.6 1231.5 1476 1232.3 1480C1233.1 1484 1233.7 1487.7 1235.2 1493.9C1236.7 1500.1 1238.9 1509.6 1241.1 1517.4C1243.2 1525.2 1246.3 1535.5 1248.1 1540.9C1249.9 1546.3 1250.7 1546.3 1252.1 1550C1253.5 1553.7 1255 1559 1256.4 1562.9C1257.8 1566.8 1259.1 1570 1260.7 1573.6C1262.3 1577.2 1264.7 1580.7 1266.3 1584.3C1267.9 1587.9 1269 1591.9 1270.6 1595.1C1272.2 1598.3 1273.9 1601.2 1275.8 1603.7C1277.7 1606.2 1280.2 1607.8 1282.2 1610.1C1284.2 1612.4 1286 1615.8 1287.8 1617.8C1289.6 1619.8 1291.2 1620.7 1293 1622.1C1294.8 1623.5 1296.6 1624.5 1298.7 1626.2C1300.8 1627.9 1302.9 1630.9 1305.5 1632.2C1308.1 1633.5 1311.2 1632.9 1314.1 1633.9C1317 1634.9 1320.3 1637.6 1322.7 1638.2C1325.1 1638.8 1326.3 1636.6 1328.7 1637.3C1331.1 1638 1334.4 1641.3 1337.3 1642.5C1340.2 1643.7 1343.3 1643 1345.9 1644.6C1348.5 1646.2 1349.9 1649.4 1352.8 1651.9C1355.7 1654.4 1359.8 1660.6 1363.1 1659.7C1366.4 1658.8 1370.9 1649 1372.5 1646.8" stroke="#40A3C0" stroke-width="2.7" fill="none" stroke-linejoin="round" stroke-linecap="round"/>
<path d="M87.6 1367.7C88.1 1364.9 89.4 1355.8 90.6 1350.9C91.8 1346 93.4 1342.5 94.6 1338.1C95.8 1333.7 96.7 1328.1 97.8 1324.5C98.9 1320.9 99.7 1319.8 101 1316.5C102.3 1313.2 104.1 1309.1 105.8 1304.4C107.5 1299.7 109.7 1293.3 111.4 1288.4C113.1 1283.5 114.6 1278.1 116.2 1274.8C117.8 1271.5 119.5 1270.7 121 1268.4C122.5 1266.1 123.5 1262.8 125 1261.2C126.5 1259.6 128.3 1260.7 129.8 1258.8C131.3 1256.9 131.6 1254.8 133.8 1250C136 1245.2 139.5 1236 143 1230.3C146.5 1224.6 151 1218.5 155 1215.8C159 1213.1 163.8 1216.8 166.9 1214.1C170 1211.4 170.4 1203.3 173.8 1199.5C177.2 1195.7 183.9 1193 187.4 1191C190.9 1189 191.5 1190.3 195 1187.8C198.5 1185.3 204.1 1180.1 208.6 1176C213.1 1171.9 218 1166.9 222.2 1163.3C226.4 1159.7 230.2 1157.3 234 1154.3C237.8 1151.3 240.8 1149.6 244.9 1145.2C249 1140.8 254 1133.1 258.5 1128C263 1122.9 267.6 1119.2 272.1 1114.4C276.6 1109.6 280.8 1103.9 285.7 1098.9C290.6 1093.9 298.4 1087.3 301.6 1084.4C304.8 1081.5 302.2 1084 305 1081.7C307.8 1079.4 314.1 1073.8 318.6 1070.8C323.1 1067.8 327.7 1065.5 332.2 1063.6C336.7 1061.7 342 1060.4 345.8 1059.5C349.6 1058.6 351.1 1058 354.9 1058.1C358.7 1058.2 364 1058.5 368.5 1059.9C373 1061.3 378.3 1064.3 382.1 1066.3C385.9 1068.3 387.4 1068.7 391.2 1071.7C395 1074.7 400.7 1080.2 404.8 1084.4C408.9 1088.6 413.2 1093.6 415.7 1097.1C418.1 1100.6 418.1 1100.7 419.5 1105.4C420.9 1110.1 422.7 1118.3 424.1 1125.4C425.5 1132.5 426.6 1143.2 427.7 1148C428.8 1152.8 429.5 1154.6 430.4 1154.4C431.3 1154.2 432.2 1150 433.1 1147.1C434 1144.2 435 1136.5 435.9 1137.1C436.8 1137.7 437.6 1147.6 438.6 1150.8C439.7 1154 440.9 1154.8 442.2 1156.2C443.5 1157.6 444.9 1159.1 446.7 1159.4C448.5 1159.7 450.8 1157.6 453.1 1158C455.4 1158.4 457.7 1159.5 460.4 1161.6C463.1 1163.7 466.4 1166.9 469.4 1170.7C472.4 1174.5 475.5 1180.1 478.5 1184.3C481.5 1188.5 484.6 1191.9 487.6 1196.1C490.6 1200.3 493.6 1205.8 496.6 1209.7C499.6 1213.6 502.6 1216.2 505.7 1219.7C508.8 1223.2 512.4 1227.7 515.4 1230.6C518.4 1233.5 520.7 1234.3 523.8 1236.9C526.9 1239.5 530.9 1243.4 534.1 1246C537.3 1248.6 540.1 1251.2 543.1 1252.4C546.1 1253.6 549.2 1252.7 552.2 1253.3C555.2 1253.9 558.3 1256 561.3 1256C564.3 1256 567.4 1254 570.4 1253.3C573.4 1252.5 576.4 1253 579.4 1251.5C582.4 1250 585.5 1246.3 588.5 1244.2C591.5 1242.1 594.6 1241.1 597.6 1238.8C600.6 1236.5 603.6 1233.5 606.6 1230.6C609.6 1227.7 613 1224.1 615.7 1221.5C618.4 1218.9 620.4 1217.5 622.7 1215.2C625 1212.9 627.4 1210.6 629.3 1207.9C631.1 1205.2 631.2 1202.2 633.8 1198.9C636.4 1195.6 641.8 1192.1 645 1188C648.2 1183.9 650.2 1178.1 653.1 1174.3C656 1170.5 659.2 1169.1 662.2 1165.3C665.2 1161.5 668.3 1155.3 671.3 1151.7C674.3 1148.1 677.4 1146.7 680.4 1143.5C683.4 1140.3 686.4 1135.9 689.4 1132.6C692.4 1129.3 695.5 1126.1 698.5 1123.5C701.5 1120.9 704.6 1119.2 707.6 1117.2C710.6 1115.2 713.6 1112.9 716.6 1111.7C719.6 1110.5 722.7 1109.4 725.7 1109.9C728.7 1110.4 731.8 1111.8 734.8 1114.5C737.8 1117.2 741.1 1122.2 743.8 1126.3C746.5 1130.4 749 1133.7 751.1 1139C753.2 1144.3 754.6 1151.4 756.1 1158C757.6 1164.6 758.6 1170.9 760.2 1178.8C761.8 1186.7 764.2 1196 765.8 1205.2C767.4 1214.5 768.6 1224.3 770 1234.3C771.4 1244.2 773 1254 774.1 1264.9C775.2 1275.8 775.9 1288 776.9 1299.5C777.9 1311 779.3 1322.6 780.3 1334.2C781.3 1345.8 782.2 1357.9 783.1 1368.9C784 1379.9 784.9 1389.6 785.9 1400C786.9 1410.4 788 1420 789.1 1431.1C790.2 1442.1 791.2 1453.6 792.6 1466.3C794 1479 795.7 1494.7 797.3 1507.4C798.9 1520.1 800.4 1532.2 802 1542.6C803.6 1553 805.1 1562.8 806.7 1569.6C808.3 1576.4 809.7 1582.7 811.4 1583.7C813.1 1584.7 815.3 1579.4 816.7 1575.5C818.1 1571.6 818.5 1568.6 819.6 1560.2C820.7 1551.8 822 1536.7 823.2 1525C824.4 1513.3 825.3 1503.5 826.7 1489.8C828.1 1476.1 829.8 1457.5 831.4 1442.8C833 1428.1 834.5 1414.9 836.1 1401.7C837.7 1388.5 839.3 1373.8 840.7 1363.4C842.1 1353 843.2 1348.3 844.7 1339.4C846.2 1330.5 848.2 1317.6 850 1310.1C851.8 1302.5 853.6 1298.8 855.4 1294.1C857.2 1289.4 859.2 1285 860.7 1282.1C862.2 1279.2 863.2 1278 864.7 1276.7C866.2 1275.4 868.2 1275.9 870 1274.1C871.8 1272.3 873.2 1268.3 875.4 1266.1C877.6 1263.9 881.6 1260.7 883.4 1260.7C885.2 1260.7 885.2 1266.3 886.1 1266.1C887 1265.9 886.9 1260.5 888.7 1259.4C890.5 1258.3 894 1258.5 896.7 1259.4C899.4 1260.3 901.6 1263.4 904.7 1264.7C907.8 1266 912.3 1266.5 915.4 1267.4C918.5 1268.3 920.3 1268.9 923.4 1270.1C926.5 1271.3 930.5 1273.4 934.1 1274.7C937.7 1276 942.1 1277.4 944.8 1278.1C947.4 1278.8 947.6 1278.1 950 1278.8C952.4 1279.5 956.1 1281.3 959.1 1282.4C962.1 1283.5 965.1 1284.4 968.1 1285.2C971.1 1286 974.2 1286.5 977.2 1287C980.2 1287.5 983.3 1288.1 986.3 1287.9C989.3 1287.8 992.4 1286.2 995.4 1286.1C998.4 1285.9 1001.4 1287.2 1004.4 1287C1007.4 1286.8 1010.5 1285.3 1013.5 1284.7C1016.5 1284.1 1019.6 1284.3 1022.6 1283.3C1025.6 1282.3 1028.6 1280.1 1031.6 1278.8C1034.6 1277.5 1037.7 1276.7 1040.7 1275.2C1043.7 1273.7 1046.8 1271.4 1049.8 1269.7C1052.8 1268 1055.6 1267 1058.8 1265.2C1062 1263.4 1065.9 1261.9 1069.1 1258.9C1072.3 1255.9 1075.4 1249.4 1078.1 1247C1080.8 1244.6 1082.4 1246.6 1085.4 1244.3C1088.4 1242 1093.4 1235.7 1096.3 1233.4C1099.2 1231.1 1099.9 1232.8 1102.6 1230.7C1105.3 1228.6 1109.9 1222.7 1112.6 1220.7C1115.3 1218.7 1116.4 1220.6 1119 1218.9C1121.6 1217.2 1125.4 1212.3 1128 1210.8C1130.6 1209.3 1131.8 1210.7 1134.4 1209.8C1137 1208.9 1140.7 1205.4 1143.4 1205.3C1146.1 1205.2 1148.3 1208 1150.7 1208.9C1153.1 1209.8 1155.7 1209.3 1158 1210.8C1160.3 1212.3 1163 1216.5 1164.3 1218C1165.5 1219.5 1163.9 1217.3 1165.5 1220C1167.1 1222.7 1170.9 1227 1173.9 1233.9C1176.9 1240.8 1180.1 1250.5 1183.6 1261.6C1187.1 1272.7 1191.9 1288.9 1194.7 1300.5C1197.5 1312.1 1198.5 1320.6 1200.5 1331C1202.5 1341.4 1204.5 1352.5 1206.5 1362.9C1208.5 1373.3 1210.6 1383.5 1212.5 1393.4C1214.4 1403.4 1215.7 1412.2 1217.9 1422.6C1220.1 1433 1223.5 1446.2 1225.5 1455.8C1227.5 1465.4 1229 1473.7 1230.2 1480C1231.4 1486.3 1231.5 1487.7 1232.9 1493.9C1234.3 1500.1 1236.8 1509.6 1238.7 1517.4C1240.7 1525.2 1242.7 1534.4 1244.6 1540.9C1246.5 1547.4 1248.4 1552 1250 1556.4C1251.6 1560.8 1252.9 1564 1254.3 1567.2C1255.7 1570.4 1257.2 1572.6 1258.6 1575.8C1260 1579 1261.5 1582.9 1262.9 1586.5C1264.3 1590.1 1265.8 1594.1 1267.2 1597.2C1268.6 1600.3 1270.1 1602.8 1271.5 1605C1272.9 1607.2 1274.4 1607.8 1275.8 1610.1C1277.2 1612.4 1278.7 1616.1 1280.1 1618.7C1281.5 1621.3 1282.6 1623.8 1284.4 1625.6C1286.2 1627.4 1288.4 1627 1290.8 1629.4C1293.2 1631.8 1296.2 1637.9 1298.7 1639.9C1301.2 1641.9 1302.9 1640.1 1305.5 1641.2C1308.1 1642.3 1311.5 1646 1314.1 1646.8C1316.7 1647.6 1318.1 1645.2 1321 1645.9C1323.9 1646.6 1328.6 1650.4 1331.3 1651.1C1334 1651.8 1334.9 1649.2 1337.3 1650.2C1339.7 1651.2 1342.9 1655.4 1345.9 1657.1C1348.9 1658.8 1352.5 1658.5 1355.4 1660.5C1358.3 1662.5 1360.2 1670.1 1363.1 1669.1C1365.9 1668.1 1370.9 1656.9 1372.5 1654.5" stroke="#BA3C41" stroke-width="2.7" fill="none" stroke-linejoin="round" stroke-linecap="round"/>
<path d="M87.8 1346.9C88.3 1344.1 89.5 1334.5 90.6 1330.1C91.7 1325.7 93.4 1324.5 94.6 1320.5C95.8 1316.5 96.3 1310.8 97.8 1306C99.3 1301.2 101.8 1295.9 103.4 1291.6C105 1287.3 106.1 1284.4 107.4 1280.4C108.7 1276.4 110.2 1271.3 111.4 1267.6C112.6 1263.9 113.7 1260.9 114.6 1258C115.5 1255.1 115.4 1254 117 1250C118.6 1246 121.7 1239.8 124.3 1233.7C126.9 1227.6 129.7 1220.6 132.8 1213.2C135.9 1205.8 139.3 1197.8 143 1189.3C146.7 1180.8 151 1168.5 155 1162C159 1155.5 163.8 1154.8 166.9 1150C170 1145.2 170.4 1138.6 173.8 1132.9C177.2 1127.2 183.9 1119.6 187.4 1115.9C190.9 1112.2 192.8 1112.8 195 1110.7C197.2 1108.6 198.1 1105.5 200.4 1103.5C202.7 1101.5 205 1100.5 208.6 1098.5C212.2 1096.5 218 1093.6 222.2 1091.7C226.4 1089.8 229.5 1087.9 234 1087.1C238.5 1086.3 245.3 1087.1 249.4 1087.1C253.5 1087.1 254.7 1086.5 258.5 1087.1C262.3 1087.7 268.3 1089.8 272.1 1090.8C275.9 1091.8 278.2 1091.9 281.2 1093C284.2 1094.1 286.8 1096 290.2 1097.6C293.6 1099.2 299.1 1101.5 301.6 1102.6C304.1 1103.7 302.2 1102.8 305 1104.4C307.8 1106.1 314.1 1109.8 318.6 1112.5C323.1 1115.2 327.7 1117.8 332.2 1120.7C336.7 1123.6 341.3 1126.6 345.8 1129.8C350.3 1133 354.9 1137.2 359.4 1139.8C363.9 1142.4 369.2 1143.4 373 1145.2C376.8 1147 378.3 1148.6 382.1 1150.6C385.9 1152.6 391.9 1155.5 395.7 1157C399.5 1158.5 401.8 1158.7 404.8 1159.7C407.8 1160.8 411.4 1162.5 413.8 1163.3C416.2 1164.1 417.3 1162.5 419.3 1164.3C421.3 1166.1 424 1172.4 425.9 1174.3C427.8 1176.2 428.7 1176.5 430.4 1175.7C432.1 1174.9 434.2 1169.6 435.9 1169.4C437.6 1169.2 438.8 1173.2 440.4 1174.3C442 1175.3 443.7 1176 445.8 1175.7C447.9 1175.4 450.7 1172.7 453.1 1172.5C455.5 1172.3 457.7 1174.1 460.4 1174.3C463.1 1174.5 466.4 1173.5 469.4 1173.9C472.4 1174.3 475.8 1176.4 478.5 1176.6C481.2 1176.8 483 1174.8 485.7 1175.2C488.4 1175.6 492.1 1178.4 494.8 1178.9C497.5 1179.4 499.4 1177.8 502.1 1178C504.8 1178.2 508.5 1180 511.1 1180.2C513.7 1180.4 515.1 1178.8 517.5 1178.9C519.9 1179 522.9 1180.7 525.7 1180.7C528.5 1180.7 531.2 1179.2 534.1 1178.9C537 1178.6 540.1 1179.6 543.1 1178.9C546.1 1178.2 549.2 1176 552.2 1174.8C555.2 1173.6 558.3 1173.2 561.3 1171.6C564.3 1170 567.4 1167.4 570.4 1165.3C573.4 1163.2 576.4 1161.2 579.4 1158.9C582.4 1156.6 585.5 1154.6 588.5 1151.7C591.5 1148.8 594.6 1144.7 597.6 1141.7C600.6 1138.7 603.6 1136.5 606.6 1133.5C609.6 1130.5 613 1126.2 615.7 1123.6C618.4 1121 620.4 1120.2 622.7 1118.1C625 1116 626.7 1113.2 629.3 1110.9C631.9 1108.6 635.9 1106.2 638.4 1104.5C640.9 1102.8 641.6 1102.1 644.1 1100.9C646.6 1099.7 650.1 1098.3 653.1 1097.2C656.1 1096.1 659.2 1094.9 662.2 1094.5C665.2 1094.1 668.3 1094.7 671.3 1095C674.3 1095.3 677.4 1095.4 680.4 1096.3C683.4 1097.2 686.4 1098.7 689.4 1100.4C692.4 1102.1 695.5 1103.8 698.5 1106.3C701.5 1108.8 704.6 1112.4 707.6 1115.4C710.6 1118.4 713.6 1120.5 716.6 1124.4C719.6 1128.3 723 1134.6 725.7 1139C728.4 1143.4 730.7 1146.3 733 1150.8C735.3 1155.3 737.3 1162 739.3 1166.2C741.3 1170.4 742.9 1170.8 745 1176.1C747.1 1181.4 749.6 1190 751.9 1198.3C754.2 1206.6 756.6 1216.5 758.9 1226C761.2 1235.5 763.9 1246.4 765.8 1255.2C767.6 1264 768.9 1271.3 770 1278.7C771.1 1286.1 771.6 1290.2 772.7 1299.5C773.9 1308.8 775.5 1322.6 776.9 1334.2C778.3 1345.8 779.7 1357.9 781 1368.9C782.3 1379.9 783.4 1391.2 784.5 1400C785.6 1408.8 786.5 1410.7 787.9 1421.7C789.2 1432.8 790.8 1453 792.6 1466.3C794.4 1479.6 796.5 1490.7 798.5 1501.5C800.5 1512.3 802.6 1522.5 804.4 1530.9C806.2 1539.3 807.8 1547.9 809.1 1552C810.4 1556.1 810.6 1555.7 812 1555.5C813.4 1555.3 815.9 1553.9 817.3 1550.8C818.7 1547.7 819 1543.9 820.2 1536.7C821.4 1529.5 823 1518.2 824.3 1507.4C825.6 1496.7 826.7 1483.9 827.9 1472.2C829.1 1460.5 830.2 1448.3 831.4 1437C832.6 1425.7 833.9 1411.9 834.9 1404.1C835.9 1396.3 836.3 1397.9 837.3 1390C838.3 1382.1 839 1367.2 840.7 1356.8C842.4 1346.4 845.2 1334.7 847.4 1327.4C849.6 1320.1 851.8 1316.8 854 1312.8C856.2 1308.8 858.7 1306.1 860.7 1303.4C862.7 1300.7 864.5 1297.6 866 1296.7C867.5 1295.8 868.2 1299.4 870 1298.1C871.8 1296.8 874.5 1291.8 876.7 1288.7C878.9 1285.6 881.6 1280.7 883.4 1279.4C885.2 1278.1 885.8 1281.2 887.4 1280.7C889 1280.2 890.7 1278.5 892.7 1276.7C894.7 1274.9 897.4 1270.5 899.4 1270.1C901.4 1269.7 902 1274.8 904.7 1274.1C907.4 1273.4 912.3 1267.4 915.4 1266.1C918.5 1264.8 920.9 1267.3 923.4 1266.1C925.9 1264.9 927.9 1259.6 930.1 1258.7C932.3 1257.8 933.9 1261.7 936.8 1260.7C939.7 1259.7 944.5 1253.8 947.5 1252.7C950.5 1251.6 952.1 1255.7 954.5 1254.3C956.9 1252.9 959.2 1245.8 961.8 1244.3C964.4 1242.8 967 1246.8 970 1245.2C973 1243.6 977.2 1236.1 979.9 1234.4C982.6 1232.8 983.7 1237.1 986.3 1235.3C988.9 1233.5 992.7 1225.3 995.4 1223.5C998.1 1221.7 999.9 1226.1 1002.6 1224.4C1005.3 1222.7 1009 1215.5 1011.7 1213.5C1014.4 1211.5 1016.3 1214.6 1018.9 1212.6C1021.5 1210.6 1024.7 1203.8 1027.1 1201.7C1029.5 1199.7 1030.7 1202.4 1033.4 1200.3C1036.1 1198.2 1040.7 1191.2 1043.4 1189C1046.1 1186.8 1047.2 1189.2 1049.8 1187.2C1052.4 1185.2 1056.2 1179 1058.8 1177.2C1061.4 1175.4 1063.5 1177.4 1065.2 1176.3C1066.9 1175.2 1067.5 1172.5 1069.1 1170.8C1070.6 1169.1 1072.4 1167.2 1074.5 1166.3C1076.6 1165.4 1079.2 1166.6 1081.8 1165.4C1084.4 1164.2 1087.2 1160.2 1089.9 1159C1092.6 1157.8 1095.4 1158.8 1098.1 1158.1C1100.8 1157.3 1103.6 1154.8 1106.3 1154.5C1109 1154.2 1111.5 1155.9 1114.4 1156.3C1117.3 1156.7 1120.5 1155.9 1123.5 1156.8C1126.5 1157.7 1129.9 1160.1 1132.6 1161.8C1135.3 1163.5 1137.4 1164.8 1139.8 1167.2C1142.2 1169.6 1144.7 1173 1147.1 1176.3C1149.5 1179.6 1152.2 1183.9 1154.3 1187.2C1156.4 1190.5 1157.8 1192.3 1159.8 1196.2C1161.8 1200.1 1164.4 1206.8 1166.1 1210.8C1167.8 1214.8 1167.7 1215 1169.7 1220C1171.7 1225 1175.2 1233.2 1178 1240.8C1180.8 1248.4 1183.3 1255.8 1186.3 1265.8C1189.3 1275.8 1193.5 1289.6 1196 1300.5C1198.5 1311.4 1199.6 1320.6 1201.5 1331C1203.4 1341.4 1205.4 1352.5 1207.5 1362.9C1209.6 1373.3 1212 1383.5 1214.2 1393.4C1216.4 1403.3 1218.7 1413 1220.8 1422.4C1222.9 1431.8 1225 1442 1226.8 1450C1228.6 1458 1229.9 1463.1 1231.7 1470.4C1233.5 1477.7 1235.4 1487.1 1237.6 1493.9C1239.8 1500.8 1242.4 1505.6 1244.6 1511.5C1246.8 1517.4 1249 1524.2 1250.5 1529.1C1252 1534 1252.6 1537.4 1253.9 1540.9C1255.2 1544.4 1257.1 1547 1258.6 1550C1260.1 1553 1261.6 1555.7 1262.9 1558.6C1264.2 1561.5 1265.2 1564.6 1266.3 1567.2C1267.4 1569.8 1267.9 1572.3 1269.3 1574C1270.7 1575.7 1273.2 1575.9 1274.9 1577.5C1276.6 1579.1 1277.8 1581.1 1279.2 1583.5C1280.6 1585.9 1282.1 1590.1 1283.5 1592.1C1284.9 1594.1 1286.4 1595 1287.8 1595.5C1289.2 1596 1290.3 1594.1 1291.7 1595.1C1293.1 1596.1 1294.8 1599.4 1296.4 1601.5C1298 1603.6 1299.7 1606.8 1301.5 1607.5C1303.3 1608.2 1304.8 1605 1307.3 1606C1309.8 1607 1313.8 1612.7 1316.7 1613.3C1319.6 1613.9 1321.7 1609.2 1324.4 1609.8C1327.1 1610.4 1330.6 1615.9 1333 1616.7C1335.4 1617.5 1336.4 1613 1339 1614.6C1341.6 1616.2 1345.8 1624.3 1348.5 1626.2C1351.2 1628.1 1353 1623.9 1355.4 1626.2C1357.8 1628.5 1361.1 1638.8 1363.1 1639.9C1365.1 1641 1365.8 1636.2 1367.4 1633C1369 1629.8 1371.7 1623 1372.5 1621" stroke="#7353A0" stroke-width="2.7" fill="none" stroke-linejoin="round" stroke-linecap="round"/>
</svg></body></html>
